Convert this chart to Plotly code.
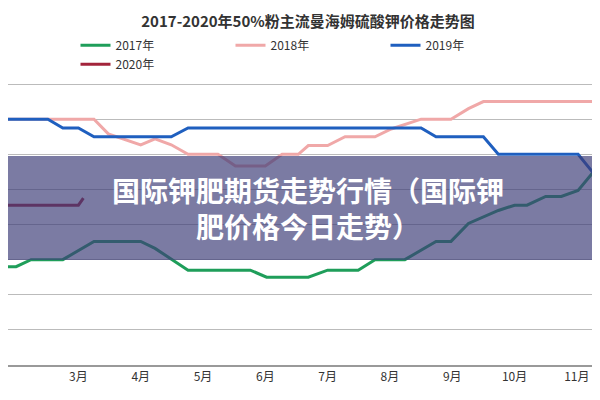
import plotly.graph_objects as go

# 2017-2020 50%粉 主流曼海姆硫酸钾价格 (x = month)
x_2017 = [1.87, 2.0, 2.24, 2.75, 3.25, 4.0, 4.23, 4.76, 5.76, 6.02, 6.69, 7.0, 7.49, 7.76, 8.24, 8.74, 8.98, 9.26, 9.74, 10.0, 10.2, 10.5, 10.75, 11.02, 11.5]
y_2017 = [1880, 1880, 1900, 1900, 1952, 1952, 1932, 1870, 1870, 1850, 1850, 1870, 1870, 1900, 1900, 1952, 1952, 2003, 2040, 2055, 2055, 2080, 2080, 2097, 2200]

x_2018 = [1.87, 2.59, 3.25, 3.48, 4.0, 4.23, 4.49, 4.76, 5.24, 5.52, 6.0, 6.27, 6.53, 6.69, 7.0, 7.28, 7.76, 8.02, 8.5, 8.98, 9.26, 9.5, 11.5]
y_2018 = [2300, 2300, 2300, 2258, 2227, 2244, 2227, 2200, 2200, 2167, 2167, 2200, 2200, 2225, 2225, 2250, 2250, 2272, 2300, 2300, 2330, 2350, 2350]

x_2019 = [1.87, 2.51, 2.75, 3.0, 3.25, 4.49, 4.76, 6.69, 8.5, 8.74, 9.5, 9.74, 11.02, 11.5]
y_2019 = [2300, 2300, 2275, 2275, 2250, 2250, 2275, 2275, 2275, 2250, 2250, 2200, 2200, 2095]

x_2020 = [1.87, 3.0, 3.08]
y_2020 = [2055, 2055, 2075]

months = [2, 3, 4, 5, 6, 7, 8, 9, 10, 11]
month_labels = [f"{m}月" for m in months]

series = [
    ("2017年", x_2017, y_2017, "#1f9e5a"),
    ("2018年", x_2018, y_2018, "#f0a8a8"),
    ("2019年", x_2019, y_2019, "#1f5fbf"),
    ("2020年", x_2020, y_2020, "#a3243b"),
]

fig = go.Figure()
for name, xs, ys, color in series:
    fig.add_trace(go.Scatter(x=xs, y=ys, mode="lines", name=name,
                             line=dict(color=color, width=3)))

# overlay banner
fig.add_shape(type="rect", xref="paper", yref="paper", x0=0, x1=1, y0=0.372, y1=0.741,
              fillcolor="rgba(60,60,120,0.68)", line=dict(width=0), layer="above")
fig.add_annotation(xref="paper", yref="paper", x=0.5, y=0.556, showarrow=False,
                   text="<b>国际钾肥期货走势行情（国际钾<br>肥价格今日走势）</b>",
                   font=dict(family="Noto Sans CJK SC", size=28, color="white"))

fig.update_layout(
    width=600, height=400,
    margin=dict(l=0, r=0, t=75, b=43),
    paper_bgcolor="white", plot_bgcolor="white",
    font=dict(family="Noto Sans CJK SC", color="#333"),
    title=dict(text="<b>2017-2020年50%粉主流曼海姆硫酸钾价格走势图</b>", x=0.5, y=0.965,
               xanchor="center", yanchor="middle", font=dict(size=15, color="#333")),
    legend=dict(orientation="h", x=0.5, xanchor="center", y=1.10, yanchor="middle",
                font=dict(size=12), entrywidth=110, entrywidthmode="pixels"),
    xaxis=dict(range=[1.87, 11.5], tickvals=months, ticktext=month_labels,
               showgrid=False, showline=True, linecolor="#999", linewidth=1.5,
               tickfont=dict(size=12, color="#333"), zeroline=False, automargin=False),
    yaxis=dict(range=[1600, 2403], tickvals=list(range(1600, 2401, 100)), showticklabels=False,
               gridcolor="#bbbbbb", gridwidth=1, zeroline=False, automargin=False),
)

fig.write_html("out.html")
